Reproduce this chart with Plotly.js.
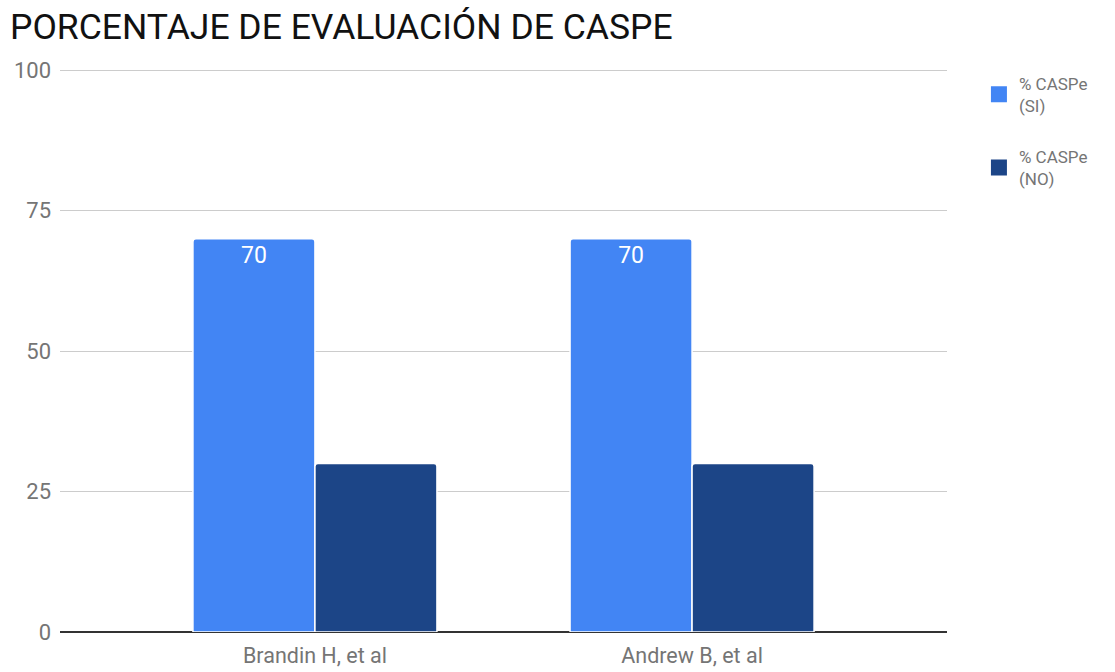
<!DOCTYPE html>
<html>
<head>
<meta charset="utf-8">
<script src="https://cdn.plot.ly/plotly-3.0.1.min.js"></script>
<style>html,body{margin:0;padding:0;background:#fff;}#chart{width:1115px;height:672px;}</style>
</head>
<body>
<div id="chart"></div>
<script>
const categories = ["Brandin H, et al", "Andrew B, et al"];
const seriesNames = ["% CASPe<br>(SI)", "% CASPe<br>(NO)"];
const seriesColors = ['#4285F4', '#1C4587'];
const siValues = [70, 70];
const noValues = [30, 30];
const yTicks = [0, 25, 50, 75, 100];

const traces = [
  {
    type: 'bar', name: seriesNames[0], x: categories, y: siValues, showlegend: false,
    text: siValues.map(String), textposition: 'inside', insidetextanchor: 'end',
    textfont: {family: 'Roboto', size: 23, color: '#ffffff'},
    marker: {color: seriesColors[0], line: {color: '#ffffff', width: 1.5}, cornerradius: 3},
    hoverinfo: 'x+y'
  },
  {
    type: 'bar', name: seriesNames[1], x: categories, y: noValues, showlegend: false,
    textposition: 'none',
    marker: {color: seriesColors[1], line: {color: '#ffffff', width: 1.5}, cornerradius: 3},
    hoverinfo: 'x+y'
  },
  {
    type: 'scatter', mode: 'markers', name: seriesNames[0], legendgroup: 'si', x: [null], y: [null],
    marker: {symbol: 'square', size: 20, color: seriesColors[0]}, hoverinfo: 'skip'
  },
  {
    type: 'scatter', mode: 'markers', name: seriesNames[1], legendgroup: 'no', x: [null], y: [null],
    marker: {symbol: 'square', size: 20, color: seriesColors[1]}, hoverinfo: 'skip'
  }
];

const layout = {
  width: 1115, height: 672,
  margin: {l: 60, r: 168, t: 69, b: 40},
  paper_bgcolor: '#ffffff', plot_bgcolor: '#ffffff',
  font: {family: 'Roboto', color: '#757575'},
  title: {text: 'PORCENTAJE DE EVALUACIÓN DE CASPE', x: 0.009, xanchor: 'left', y: 0.96, yanchor: 'middle',
          font: {family: 'Roboto', size: 35.5, color: '#111111'}},
  barmode: 'group', bargap: 0.353, bargroupgap: 0,
  xaxis: {type: 'category', range: [-0.676, 1.676], showgrid: false, zeroline: false, showline: false,
          ticks: '', ticklabelstandoff: 8, tickfont: {size: 21.5, color: '#757575'}, fixedrange: true},
  yaxis: {range: [0, 100.2], tickvals: yTicks, ticktext: yTicks.map(String), showgrid: true, gridcolor: '#cccccc',
          gridwidth: 1, zeroline: true, zerolinecolor: '#333333', zerolinewidth: 1.8, showline: false,
          ticks: '', ticklabelstandoff: 8, tickfont: {size: 22, color: '#757575'}, fixedrange: true},
  legend: {x: 1.036, xanchor: 'left', y: 1.006, yanchor: 'top', font: {size: 17, color: '#757575'},
           itemsizing: 'trace', tracegroupgap: 26, bgcolor: 'rgba(0,0,0,0)'},
  showlegend: true
};

Plotly.newPlot('chart', traces, layout, {displayModeBar: false, staticPlot: false});
</script>
</body>
</html>
